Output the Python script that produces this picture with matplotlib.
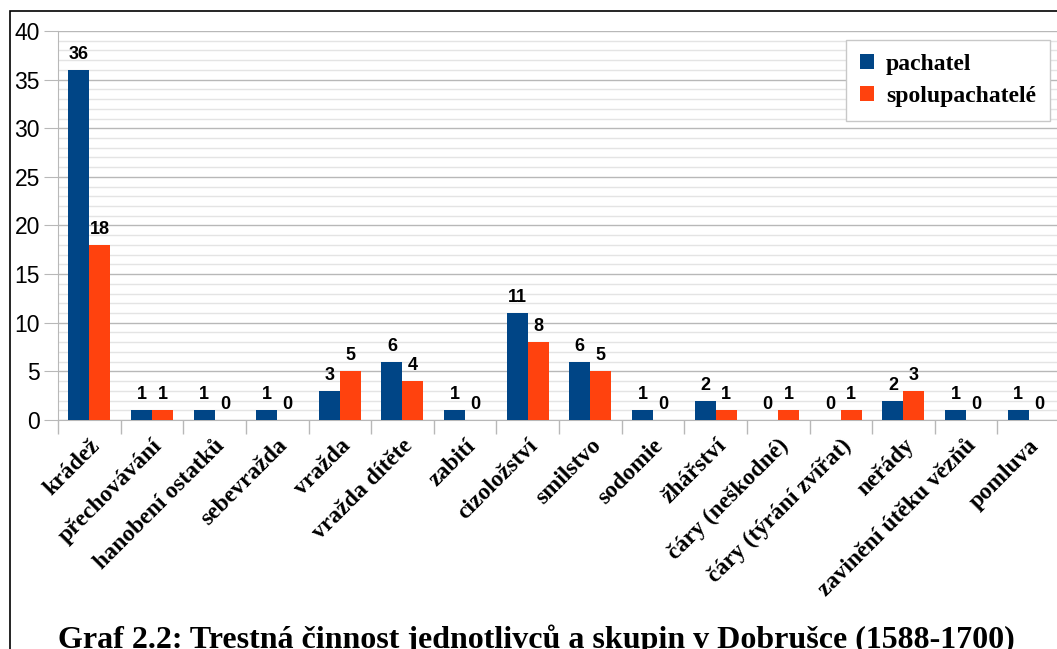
import numpy as np
import matplotlib.pyplot as plt
from matplotlib.patches import Rectangle
from matplotlib.ticker import MultipleLocator, FixedLocator

categories = ['krádež', 'přechovávání', 'hanobení ostatků', 'sebevražda', 'vražda',
              'vražda dítěte', 'zabití', 'cizoložství', 'smilstvo', 'sodomie',
              'žhářství', 'čáry (neškodné)', 'čáry (týrání zvířat)', 'neřády',
              'zavinění útěku vězňů', 'pomluva']
pachatel = [36, 1, 1, 1, 3, 6, 1, 11, 6, 1, 2, 0, 0, 2, 1, 1]
spolupachatele = [18, 1, 0, 0, 5, 4, 0, 8, 5, 0, 1, 1, 1, 3, 0, 0]

blue = '#004586'
orange = '#ff420e'

fig = plt.figure(figsize=(10.57, 6.49), dpi=100)
ax = fig.add_axes([58 / 1057, 229 / 649, 1002 / 1057, 389 / 649])

x = np.arange(len(categories))
w = 0.335
b1 = ax.bar(x - w / 2, pachatel, w, color=blue, label='pachatel', zorder=3)
b2 = ax.bar(x + w / 2, spolupachatele, w, color=orange, label='spolupachatelé', zorder=3)

for bars in (b1, b2):
    for r in bars:
        ax.annotate(f'{int(r.get_height())}', (r.get_x() + r.get_width() / 2, r.get_height()),
                    xytext=(0, 5), textcoords='offset points', ha='center', va='bottom',
                    fontsize=13, fontweight='bold', family='Liberation Sans')

ax.set_xlim(-0.5, len(categories) - 0.5)
ax.set_ylim(0, 40)
ax.yaxis.set_major_locator(MultipleLocator(5))
ax.yaxis.set_minor_locator(MultipleLocator(1))
ax.grid(which='major', axis='y', color='#b8b8b8', lw=1, zorder=0)
ax.grid(which='minor', axis='y', color='#e4e4e4', lw=1, zorder=0)

ax.set_xticks(x)
ax.set_xticklabels(categories, rotation=45, ha='right', va='top', rotation_mode='anchor',
                   family='Liberation Serif', fontweight='bold', fontsize=17)
ax.tick_params(axis='x', which='major', length=0, pad=11)
ax.xaxis.set_minor_locator(FixedLocator(np.arange(-0.5, len(categories), 1)))
ax.tick_params(axis='x', which='minor', length=10, color='#b8b8b8', width=1)
ax.tick_params(axis='y', which='major', length=10, color='#b8b8b8', labelsize=16.5, pad=3)
ax.tick_params(axis='y', which='minor', length=0)
for lab in ax.get_yticklabels():
    lab.set_family('Liberation Sans')

for s in ['top', 'right']:
    ax.spines[s].set_visible(False)
ax.spines['left'].set_color('#b8b8b8')
ax.spines['bottom'].set_color('#b8b8b8')

leg = ax.legend(loc='upper right', bbox_to_anchor=(0.99, 0.977), borderaxespad=0,
                prop={'family': 'Liberation Serif', 'weight': 'bold', 'size': 17},
                handlelength=0.6, handleheight=0.6, fancybox=False, framealpha=1,
                edgecolor='#c8c8c8', borderpad=0.6, labelspacing=0.45, handletextpad=0.5)
leg.get_frame().set_linewidth(1)

fig.patches.append(Rectangle((10 / 1057, -0.05), 1.1, (649 - 11) / 649 + 0.05,
                             transform=fig.transFigure, fill=False, edgecolor='black', lw=1.2))

fig.text(536 / 1057, -6 / 649, 'Graf 2.2: Trestná činnost jednotlivců a skupin v Dobrušce (1588-1700)',
         ha='center', va='bottom', family='Liberation Serif', fontweight='bold', fontsize=23)

fig.savefig('out.png', dpi=100)
